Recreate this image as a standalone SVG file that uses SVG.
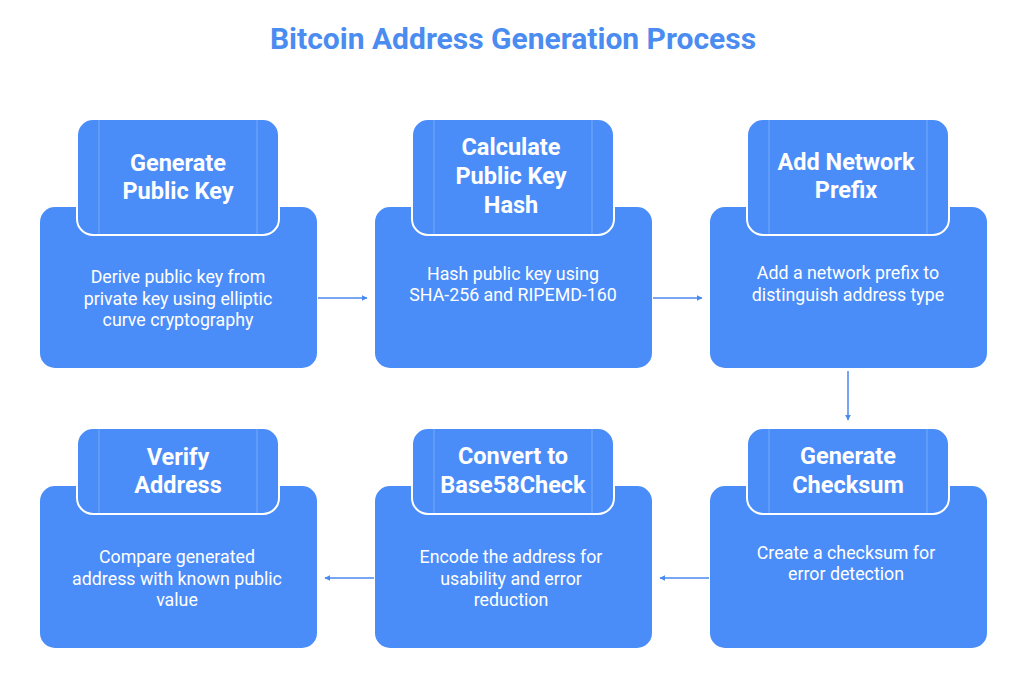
<svg xmlns="http://www.w3.org/2000/svg" width="1024" height="673" viewBox="0 0 1024 673">
<defs>
<style>
.box{fill:#4B8DF8;}
.tab{fill:#4B8DF8;stroke:#FFFFFF;stroke-width:2;}
.tabline{stroke:#FFFFFF;stroke-opacity:0.25;stroke-width:1;}
.title{font-family:Roboto,"Liberation Sans",sans-serif;font-weight:700;font-size:30px;fill:#4A8CF0;text-anchor:middle;}
.head{font-family:Roboto,"Liberation Sans",sans-serif;font-weight:700;font-size:23.5px;fill:#FFFFFF;text-anchor:middle;}
.body{font-family:Roboto,"Liberation Sans",sans-serif;font-size:17.8px;fill:#FFFFFF;text-anchor:middle;}
.conn{stroke:#4A8AEE;stroke-width:1.5;fill:none;marker-end:url(#arr);}
</style>
<marker id="arr" viewBox="0 0 10 10" refX="9" refY="5" markerWidth="6" markerHeight="6" markerUnits="userSpaceOnUse" orient="auto">
<path d="M0,0 L10,5 L0,10 z" fill="#4A8AEE"/>
</marker>
</defs>
<rect width="1024" height="673" fill="#FFFFFF"/>
<text class="title" x="513" y="49">Bitcoin Address Generation Process</text>

<g id="connectors">
<line class="conn" x1="318" y1="298" x2="367" y2="298"/>
<line class="conn" x1="653" y1="298" x2="702" y2="298"/>
<line class="conn" x1="848" y1="371" x2="848" y2="420"/>
<line class="conn" x1="709" y1="578" x2="660" y2="578"/>
<line class="conn" x1="374" y1="578" x2="325" y2="578"/>
</g>

<g id="node1">
<rect class="box" x="40" y="207" width="277" height="161" rx="15"/>
<rect class="tab" x="77" y="119" width="202" height="116" rx="16"/>
<line class="tabline" x1="99" y1="120" x2="99" y2="234"/>
<line class="tabline" x1="257" y1="120" x2="257" y2="234"/>
<text class="head" x="178" y="171">Generate</text>
<text class="head" x="178" y="199">Public Key</text>
<text class="body" x="178" y="283">Derive public key from</text>
<text class="body" x="178" y="305">private key using elliptic</text>
<text class="body" x="178" y="326">curve cryptography</text>
</g>

<g id="node2">
<rect class="box" x="375" y="207" width="277" height="161" rx="15"/>
<rect class="tab" x="412" y="119" width="202" height="116" rx="16"/>
<line class="tabline" x1="434" y1="120" x2="434" y2="234"/>
<line class="tabline" x1="592" y1="120" x2="592" y2="234"/>
<text class="head" x="511" y="155">Calculate</text>
<text class="head" x="511" y="184">Public Key</text>
<text class="head" x="511" y="213">Hash</text>
<text class="body" x="513" y="280">Hash public key using</text>
<text class="body" x="513" y="301">SHA-256 and RIPEMD-160</text>
</g>

<g id="node3">
<rect class="box" x="710" y="207" width="277" height="161" rx="15"/>
<rect class="tab" x="747" y="119" width="202" height="116" rx="16"/>
<line class="tabline" x1="769" y1="120" x2="769" y2="234"/>
<line class="tabline" x1="927" y1="120" x2="927" y2="234"/>
<text class="head" x="846" y="170">Add Network</text>
<text class="head" x="846" y="198">Prefix</text>
<text class="body" x="848" y="279">Add a network prefix to</text>
<text class="body" x="848" y="301">distinguish address type</text>
</g>

<g id="node4">
<rect class="box" x="710" y="486" width="277" height="162" rx="15"/>
<rect class="tab" x="747" y="428" width="202" height="86" rx="16"/>
<line class="tabline" x1="769" y1="429" x2="769" y2="513"/>
<line class="tabline" x1="927" y1="429" x2="927" y2="513"/>
<text class="head" x="848" y="464">Generate</text>
<text class="head" x="848" y="493">Checksum</text>
<text class="body" x="846" y="559">Create a checksum for</text>
<text class="body" x="846" y="580">error detection</text>
</g>

<g id="node5">
<rect class="box" x="375" y="486" width="277" height="162" rx="15"/>
<rect class="tab" x="412" y="428" width="202" height="86" rx="16"/>
<line class="tabline" x1="434" y1="429" x2="434" y2="513"/>
<line class="tabline" x1="592" y1="429" x2="592" y2="513"/>
<text class="head" x="513" y="464">Convert to</text>
<text class="head" x="513" y="493">Base58Check</text>
<text class="body" x="511" y="563">Encode the address for</text>
<text class="body" x="511" y="585">usability and error</text>
<text class="body" x="511" y="606">reduction</text>
</g>

<g id="node6">
<rect class="box" x="40" y="486" width="277" height="162" rx="15"/>
<rect class="tab" x="77" y="428" width="202" height="86" rx="16"/>
<line class="tabline" x1="99" y1="429" x2="99" y2="513"/>
<line class="tabline" x1="257" y1="429" x2="257" y2="513"/>
<text class="head" x="178" y="465">Verify</text>
<text class="head" x="178" y="493">Address</text>
<text class="body" x="177" y="563">Compare generated</text>
<text class="body" x="177" y="585">address with known public</text>
<text class="body" x="177" y="606">value</text>
</g>
</svg>
